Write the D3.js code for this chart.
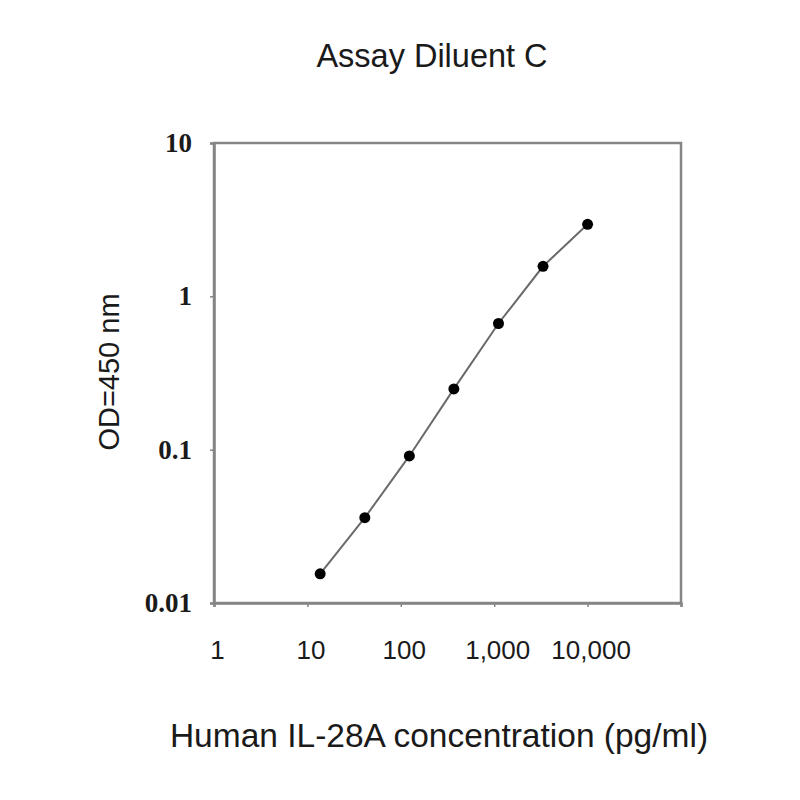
<!DOCTYPE html>
<html>
<head>
<meta charset="utf-8">
<script src="https://cdn.jsdelivr.net/npm/d3@7"></script>
<style>
  html, body { margin: 0; padding: 0; background: #fff; }
  svg { display: block; }
</style>
</head>
<body>
<svg id="chart" width="800" height="800"></svg>
<script>
// ---- data ----
const chartTitle = "Assay Diluent C";
const xTitle = "Human IL-28A concentration (pg/ml)";
const yTitle = "OD=450 nm";
const concentrations = [13.7, 41.2, 123.5, 370, 1111, 3333, 10000];
const odValues = [0.0155, 0.036, 0.091, 0.249, 0.665, 1.57, 2.95];
const xTickValues = [1, 10, 100, 1000, 10000, 100000];
const xTickLabels = ["1", "10", "100", "1,000", "10,000", ""];
const yTickValues = [0.01, 0.1, 1, 10];
const yTickLabels = ["0.01", "0.1", "1", "10"];

// ---- layout ----
const svg = d3.select("#chart");
const plotLeft = 214, plotRight = 681, plotTop = 143, plotBottom = 603;
const axisColor = "#858585";

const x = d3.scaleLog().domain([1, 100000]).range([plotLeft, plotRight]);
const y = d3.scaleLog().domain([0.01, 10]).range([plotBottom, plotTop]);

// frame (top & right)
svg.append("rect")
  .attr("x", plotLeft).attr("y", plotTop)
  .attr("width", plotRight - plotLeft).attr("height", plotBottom - plotTop)
  .attr("fill", "none").attr("stroke", axisColor).attr("stroke-width", 2.5);

// x axis
const xAxis = d3.axisBottom(x)
  .tickValues(xTickValues)
  .tickSize(4)
  .tickPadding(34)
  .tickFormat((d, i) => xTickLabels[i]);
const gx = svg.append("g").attr("transform", `translate(0,${plotBottom})`).call(xAxis);
gx.select(".domain").attr("stroke", axisColor).attr("stroke-width", 2.5);
gx.selectAll(".tick line").attr("stroke", axisColor).attr("stroke-width", 1.5);
gx.selectAll(".tick text")
  .attr("font-family", "'Liberation Sans', Arial, sans-serif")
  .attr("font-size", 26)
  .attr("fill", "#1a1a1a")
  .attr("dx", 3);

// y axis
const yAxis = d3.axisLeft(y)
  .tickValues(yTickValues)
  .tickSize(4)
  .tickPadding(18)
  .tickFormat((d, i) => yTickLabels[i]);
const gy = svg.append("g").attr("transform", `translate(${plotLeft},0)`).call(yAxis);
gy.select(".domain").attr("stroke", axisColor).attr("stroke-width", 2.5);
gy.selectAll(".tick line").attr("stroke", axisColor).attr("stroke-width", 1.5);
gy.selectAll(".tick text")
  .attr("font-family", "'Liberation Serif', 'Times New Roman', serif")
  .attr("font-weight", "bold")
  .attr("font-size", 27)
  .attr("fill", "#1a1a1a");

// data line
const pts = concentrations.map((c, i) => [c, odValues[i]]);
svg.append("path")
  .datum(pts)
  .attr("fill", "none")
  .attr("stroke", "#6a6a6a")
  .attr("stroke-width", 2)
  .attr("d", d3.line().x(d => x(d[0])).y(d => y(d[1])));

svg.selectAll("circle.pt")
  .data(pts)
  .enter().append("circle")
  .attr("class", "pt")
  .attr("cx", d => x(d[0]))
  .attr("cy", d => y(d[1]))
  .attr("r", 5.5)
  .attr("fill", "#000");

// titles
svg.append("text")
  .attr("x", 432).attr("y", 67)
  .attr("text-anchor", "middle")
  .attr("font-family", "'Liberation Sans', Arial, sans-serif")
  .attr("font-size", 32.5)
  .attr("fill", "#1a1a1a")
  .text(chartTitle);

svg.append("text")
  .attr("x", 439).attr("y", 747)
  .attr("text-anchor", "middle")
  .attr("font-family", "'Liberation Sans', Arial, sans-serif")
  .attr("font-size", 33.5)
  .attr("fill", "#1a1a1a")
  .text(xTitle);

svg.append("text")
  .attr("transform", "translate(119,372) rotate(-90)")
  .attr("text-anchor", "middle")
  .attr("font-family", "'Liberation Sans', Arial, sans-serif")
  .attr("font-size", 29)
  .attr("fill", "#1a1a1a")
  .text(yTitle);
</script>
</body>
</html>
